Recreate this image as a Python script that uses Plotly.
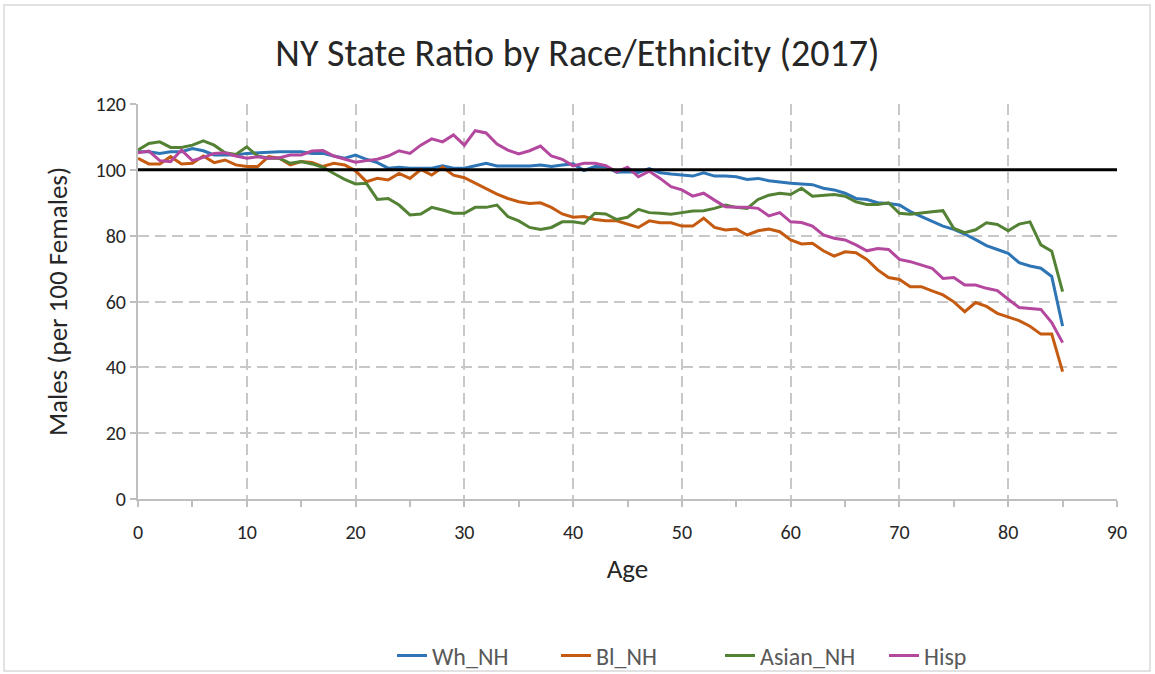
import plotly.graph_objects as go

ages = list(range(0, 86))

wh_nh = [105.5, 105.5, 105.0, 105.5, 105.5, 106.5, 105.8, 104.5, 104.5, 104.5,
         105.0, 105.2, 105.5, 105.5, 105.5, 105.5, 105.0, 105.0, 104.2, 103.5,
         104.5, 103.2, 102.2, 100.5, 100.8, 100.5, 100.5, 100.5, 101.2, 100.5,
         100.5, 101.2, 102.0, 101.2, 101.2, 101.2, 101.2, 101.5, 101.0, 101.5,
         101.8, 99.8, 101.0, 101.0, 99.3, 99.4, 99.2, 100.4, 99.1, 98.7,
         98.4, 98.1, 99.1, 98.1, 98.1, 97.9, 97.1, 97.4, 96.7, 96.2,
         95.9, 95.7, 95.5, 94.4, 93.9, 92.9, 91.3, 91.0, 90.0, 89.8,
         89.3, 87.3, 85.8, 84.2, 82.9, 81.9, 80.5, 78.8, 77.0, 75.8,
         74.6, 71.8, 70.8, 70.1, 67.6, 52.5]

bl_nh = [103.5, 101.8, 101.8, 104.0, 101.8, 102.0, 104.2, 102.2, 103.0, 101.5,
         101.0, 101.0, 104.0, 103.5, 101.5, 102.5, 102.2, 101.0, 102.0, 101.5,
         99.7, 96.4, 97.4, 96.9, 98.9, 97.4, 100.1, 98.4, 100.8, 98.4,
         97.6, 96.0, 94.4, 92.6, 91.3, 90.3, 89.8, 90.0, 88.6, 86.6,
         85.6, 85.8, 84.9, 84.5, 84.5, 83.5, 82.5, 84.5, 83.9, 83.9,
         82.9, 82.9, 85.3, 82.5, 81.7, 82.0, 80.2, 81.5, 82.0, 81.2,
         78.7, 77.5, 77.7, 75.4, 73.8, 75.1, 74.8, 72.8, 69.6, 67.3,
         66.7, 64.5, 64.5, 63.2, 62.0, 59.9, 56.9, 59.7, 58.5, 56.4,
         55.2, 54.2, 52.5, 50.1, 50.1, 38.7]

asian_nh = [106.0, 108.0, 108.5, 106.8, 106.8, 107.5, 108.8, 107.5, 105.2, 104.7,
            107.0, 104.2, 103.5, 103.5, 102.0, 102.5, 101.8, 100.8, 98.9, 97.1,
            95.7, 95.9, 91.0, 91.3, 89.3, 86.3, 86.6, 88.6, 87.8, 86.8,
            86.8, 88.6, 88.6, 89.3, 85.8, 84.5, 82.5, 81.9, 82.5, 84.2,
            84.2, 83.7, 86.8, 86.6, 84.9, 85.6, 88.0, 87.0, 86.8, 86.5,
            87.0, 87.5, 87.6, 88.3, 89.3, 88.6, 88.3, 91.0, 92.3, 92.9,
            92.5, 94.4, 92.0, 92.3, 92.5, 92.0, 90.3, 89.5, 89.5, 90.0,
            86.8, 86.5, 87.0, 87.3, 87.6, 82.2, 80.9, 81.8, 83.9, 83.4,
            81.5, 83.5, 84.2, 77.2, 75.3, 63.0]

hisp = [105.2, 105.7, 102.8, 102.5, 106.0, 102.8, 103.8, 105.0, 105.2, 104.2,
        103.5, 104.0, 103.5, 103.7, 104.5, 104.5, 105.7, 105.9, 104.2, 103.3,
        102.3, 102.8, 103.2, 104.2, 105.8, 105.0, 107.5, 109.4, 108.5, 110.6,
        107.5, 111.9, 111.2, 107.8, 106.0, 104.8, 105.8, 107.2, 104.2, 103.2,
        101.2, 102.0, 102.0, 101.3, 99.4, 100.8, 97.9, 99.6, 97.4, 94.9,
        93.9, 92.0, 92.9, 90.8, 88.8, 88.6, 88.6, 88.3, 86.0, 87.0,
        84.2, 84.0, 82.9, 80.2, 79.2, 78.7, 77.2, 75.4, 76.1, 75.8,
        72.8, 72.1, 71.1, 70.1, 67.0, 67.3, 65.0, 65.0, 64.0, 63.3,
        60.7, 58.2, 57.9, 57.6, 53.6, 47.5]

series_names = ["Wh_NH", "Bl_NH", "Asian_NH", "Hisp"]
series_values = [wh_nh, bl_nh, asian_nh, hisp]
series_colors = ["#2E75B6", "#C55A11", "#548235", "#B4479E"]

parity_x = [0, 90]
parity_value = 100

FONT = "'Liberation Sans Narrow', Carlito, Calibri, 'Open Sans', sans-serif"

fig = go.Figure()
for name, vals, col in zip(series_names, series_values, series_colors):
    fig.add_trace(go.Scatter(x=ages, y=vals, mode="lines", name=name,
                             line=dict(color=col, width=3)))

fig.add_trace(go.Scatter(x=parity_x, y=[parity_value] * len(parity_x), mode="lines",
                         line=dict(color="black", width=3), showlegend=False,
                         hoverinfo="skip"))

L, R, T, B = 138, 1117, 104, 499
W, H = 1155, 674
pw, ph = R - L, B - T

def px(xp):
    return (xp - L) / pw

def py(yp):
    return (B - yp) / ph

fig.add_shape(type="rect", xref="paper", yref="paper",
              x0=px(4), x1=px(1150), y0=py(671), y1=py(5),
              line=dict(color="#D9D9D9", width=1.5), layer="below")

fig.update_layout(
    width=W, height=H,
    margin=dict(l=L, r=W - R, t=T, b=H - B, autoexpand=False),
    paper_bgcolor="white", plot_bgcolor="white",
    font=dict(family=FONT, color="#404040", size=21),
    title=dict(text="NY State Ratio by Race/Ethnicity (2017)", x=0.5, xanchor="center",
               y=1 - 53 / H, yanchor="middle", xref="container", yref="container",
               font=dict(size=38, color="#262626")),
    legend=dict(orientation="h", x=px(392), xanchor="left", y=py(656), yanchor="middle",
                font=dict(size=24, color="#595959"), tracegroupgap=0,
                entrywidth=119, entrywidthmode="pixels",
                bgcolor="rgba(0,0,0,0)"),
    showlegend=True,
)

fig.update_xaxes(range=[0, 90], dtick=10, tick0=0, automargin=False,
                 showgrid=True, gridcolor="#C8C8C8", gridwidth=2, griddash="11px,6px",
                 showline=True, linecolor="#BFBFBF", linewidth=2,
                 ticks="outside", ticklen=6, tickcolor="#BFBFBF", tickwidth=1.5,
                 ticklabelstandoff=8,
                 minor=dict(dtick=5, ticks="outside", ticklen=6, tickcolor="#BFBFBF",
                            tickwidth=1.5, showgrid=False),
                 zeroline=False,
                 tickfont=dict(size=20, color="#262626"),
                 title=dict(text="Age", font=dict(size=27, color="#262626"), standoff=16))

fig.update_yaxes(range=[0, 120], dtick=20, tick0=0, automargin=False,
                 showgrid=True, gridcolor="#C8C8C8", gridwidth=2, griddash="11px,6px",
                 showline=True, linecolor="#BFBFBF", linewidth=2,
                 ticks="outside", ticklen=6, tickcolor="#BFBFBF", tickwidth=1.5,
                 zeroline=False,
                 tickfont=dict(size=20, color="#262626"),
                 title=dict(text="Males (per 100 Females)", font=dict(size=27, color="#262626"),
                            standoff=20))

fig.write_html("out.html", config={"displayModeBar": False},
               post_script="document.body.style.margin='0px';")
